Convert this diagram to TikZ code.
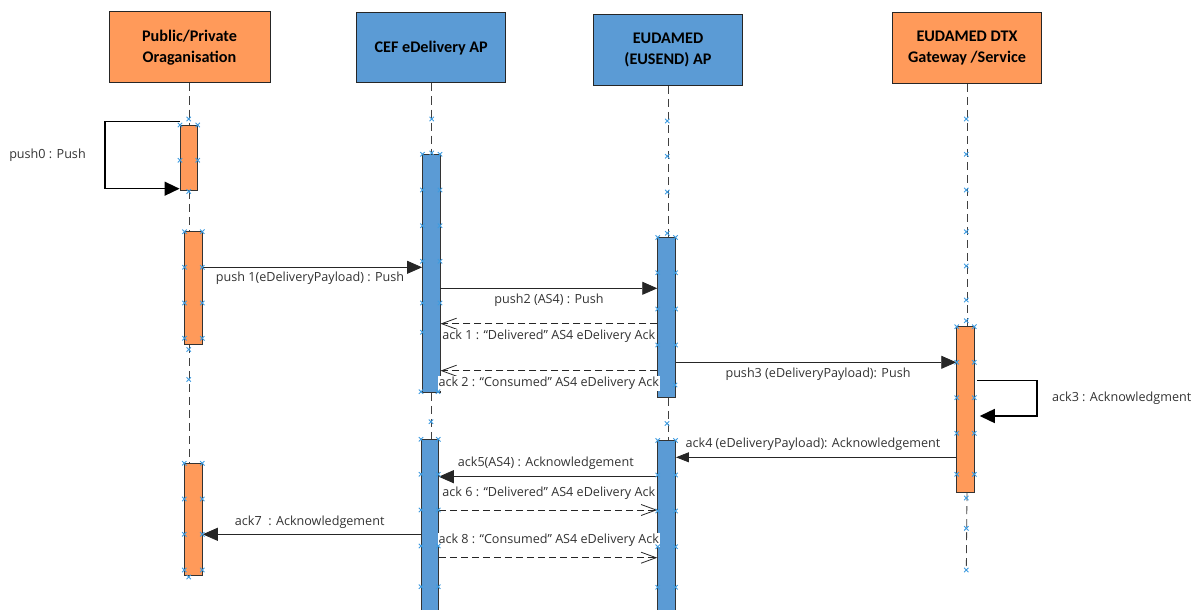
\documentclass[tikz,border=0pt]{standalone}
\usepackage{fontspec}
\setmainfont{Open Sans}
\newfontfamily\headfont{Carlito}
\usetikzlibrary{arrows.meta,fit}
\definecolor{orfill}{HTML}{FF9A5A}
\definecolor{blfill}{HTML}{5B9BD5}
\definecolor{hcol}{HTML}{3E9BE0}
\definecolor{txt}{HTML}{333333}
\begin{document}
\begin{tikzpicture}[x=1pt,y=-1pt,
  head/.style={draw=black!85,line width=1pt,inner sep=0pt},
  headtxt/.style={align=center,inner sep=0pt,
    font=\headfont\bfseries\fontsize{16.2}{20.6}\selectfont},
  orhead/.style={head,fill=orfill},
  blhead/.style={head,fill=blfill},
  actbar/.style={draw=black!80,line width=0.9pt,inner sep=0pt},
  orbar/.style={actbar,fill=orfill},
  blbar/.style={actbar,fill=blfill},
  lifeline/.style={draw=black!75,line width=0.8pt,dash pattern=on 8pt off 5pt},
  msg/.style={draw=black!85,line width=0.8pt,-{Triangle[length=15pt,width=13pt]}},
  smallmsg/.style={draw=black!85,line width=0.8pt,-{Triangle[length=13pt,width=10pt]}},
  rmsg/.style={draw=black!85,line width=0.8pt,dash pattern=on 7pt off 4pt,
    -{Straight Barb[length=15pt,width=11pt,line width=0.8pt]}},
  selfmsg/.style={draw=black,line width=1.4pt,-{Triangle[length=15pt,width=14pt]}},
  lbl/.style={text=txt,font=\fontsize{12.6}{14}\selectfont,inner sep=1pt},
  wlbl/.style={lbl,fill=white},
  handle/.pic={\draw[hcol,line width=0.9pt] (-2.2,-2.2)--(2.2,2.2) (-2.2,2.2)--(2.2,-2.2);}
]
\useasboundingbox (0,0) rectangle (1200,610);

% heads
\node[orhead,fit={(109,12) (270,83)}] (h1) {};
\node[blhead,fit={(356.7,12.3) (505.7,83)}] (h2) {};
\node[blhead,fit={(593.3,15) (742.7,85.3)}] (h3) {};
\node[orhead,fit={(892.3,12.3) (1041.7,83.3)}] (h4) {};
\node[headtxt] (t1) at (189.5,47.5) {Public/Private\\Oraganisation};
\node[headtxt] (t2) at (431.2,48) {CEF eDelivery AP};
\node[headtxt] (t3) at (668,50) {EUDAMED\\(EUSEND) AP};
\node[headtxt] (t4) at (967,48) {EUDAMED DTX\\Gateway /Service};

% activation bars
\node[orbar,fit={(180,125) (197.7,190.3)}] (b1a) {};
\node[orbar,fit={(184.5,231.7) (202.3,344.3)}] (b1b) {};
\node[orbar,fit={(184.3,463.3) (202.3,575.7)}] (b1c) {};
\node[blbar,fit={(422.5,154.3) (440,392.3)}] (b2a) {};
\node[blbar,fit={(421,439.3) (438.3,616)}] (b2b) {};
\node[blbar,fit={(657.7,237.5) (675.5,397.3)}] (b3a) {};
\node[blbar,fit={(657.7,440.5) (675.5,616)}] (b3b) {};
\node[orbar,fit={(956.7,326.7) (974.3,492.7)}] (b4a) {};
\coordinate (end4) at (966.3,570);

% lifelines
\draw[lifeline] (h1.south) -- (b1a.north -| h1.south);
\draw[lifeline] (b1a.south -| h1.south) -- (b1b.north -| h1.south);
\draw[lifeline] (b1b.south -| h1.south) -- (b1c.north -| h1.south);
\draw[lifeline] (h2.south) -- (b2a.north -| h2.south);
\draw[lifeline] (b2a.south -| h2.south) -- (b2b.north -| h2.south);
\draw[lifeline] (h3.south) -- (b3a.north -| h3.south);
\draw[lifeline] (b3a.south -| h3.south) -- (b3b.north -| h3.south);
\draw[lifeline] (h4.south) -- (b4a.north -| h4.south);
\draw[lifeline] (b4a.south -| h4.south) -- (end4);

% messages
\draw[selfmsg] (b1a.west |- 0,121.7) -- (105,121.7) -- (105,188.7) -- (b1a.west |- 0,188.7);
\draw[msg] (b1b.east |- 0,267.3) -- (b2a.west |- 0,267.3);
\draw[msg] (b2a.east |- 0,288.3) -- (b3a.west |- 0,288.3);
\draw[rmsg] (b3a.west |- 0,323.7) -- (b2a.east |- 0,323.7);
\draw[rmsg] (b3a.west |- 0,370.7) -- (b2a.east |- 0,370.7);
\draw[msg] (b3a.east |- 0,362.3) -- (b4a.west |- 0,362.3);
\draw[selfmsg] ([xshift=2.5pt]b4a.east |- 0,380.3) -- (1037,380.3) -- (1037,416) -- ([xshift=5pt]b4a.east |- 0,416);
\draw[smallmsg] (b4a.west |- 0,457.3) -- (b3b.east |- 0,457.3);
\draw[msg] (b3b.west |- 0,476.7) -- (b2b.east |- 0,476.7);
\draw[rmsg] (b2b.east |- 0,510) -- (b3b.west |- 0,510);
\draw[msg] (b2b.west |- 0,534.3) -- (b1c.east |- 0,534.3);
\draw[rmsg] (b2b.east |- 0,557.7) -- (b3b.west |- 0,557.7);

% labels
\node[lbl] (l0) at (47.5,155) {push0 : Push};
\node[lbl] (l1) at (310,278.3) {push 1(eDeliveryPayload) : Push};
\node[lbl] (l2) at (549,300) {push2 (AS4) : Push};
\node[wlbl] (l3) at (548.8,336) {ack 1 : “Delivered” AS4 eDelivery Ack};
\node[wlbl] (l4) at (548.8,383.3) {ack 2 : “Consumed” AS4 eDelivery Ack};
\node[lbl] (l5) at (818,374) {push3 (eDeliveryPayload): Push};
\node[lbl] (l6) at (1121.7,398.3) {ack3 : Acknowledgment};
\node[lbl] (l7) at (813,444.3) {ack4 (eDeliveryPayload): Acknowledgement};
\node[lbl] (l8) at (545.8,463.3) {ack5(AS4) : Acknowledgement};
\node[wlbl] (l9) at (548.8,493.3) {ack 6 : “Delivered” AS4 eDelivery Ack};
\node[lbl] (l10) at (309.7,522.3) {ack7\ \ : Acknowledgement};
\node[wlbl] (l11) at (548.8,540) {ack 8 : “Consumed” AS4 eDelivery Ack};

% selection handles
\foreach \hx/\hy in {188.7/119,180/125,197.7/125,180/160.3,197.7/160.3,188.7/191.5,
  184.5/231.7,202.3/231.7,184.5/267.3,202.3/267.3,184.5/303,202.3/303,184.5/338.3,202.3/338.3,
  188.7/349.5,188.7/379.5,
  184.3/463.3,202.3/463.3,184.3/499,202.3/499,184.3/534.3,202.3/534.3,184.3/570,202.3/570,188.7/577,
  431.7/119,422.5/154.3,431.7/153,440/154.3,422.5/190,440/190,422.5/225.7,440/225.7,
  422.5/261.3,440/261.3,422.5/303,440/303,422.5/332.3,421/391.7,438/391.7,431/421.7,
  421/439.3,438.3/439.3,421/474.3,438.3/474.3,421/510,438.3/510,421/546,438.3/546,421/586.7,438.3/586.7,
  667.3/121,667.3/156.3,667.3/192,667.3/233.3,657.7/237.5,675.5/237.5,657.7/272.7,675.5/272.7,
  657.7/309,675.5/309,657.7/345,675.5/345,675/385,667/423.5,
  657.7/440.5,675.5/440.5,657.7/475,675.5/475,657.7/511,675.5/511,657.7/546.7,675.5/546.7,657.7/587.3,675.5/587.3,
  966.3/119,966.3/154.3,966.3/190,966.3/231.7,966.3/266,966.3/300,
  966.3/320.7,956.7/326.7,974.3/326.7,956.7/362.3,974.3/362.3,956.7/397.7,974.3/397.7,
  956.7/433.3,974.3/433.3,956.7/474.3,974.3/474.3,966.3/498,966.3/528.3,966.3/570}
  {\pic at (\hx,\hy) {handle};}
\end{tikzpicture}
\end{document}
